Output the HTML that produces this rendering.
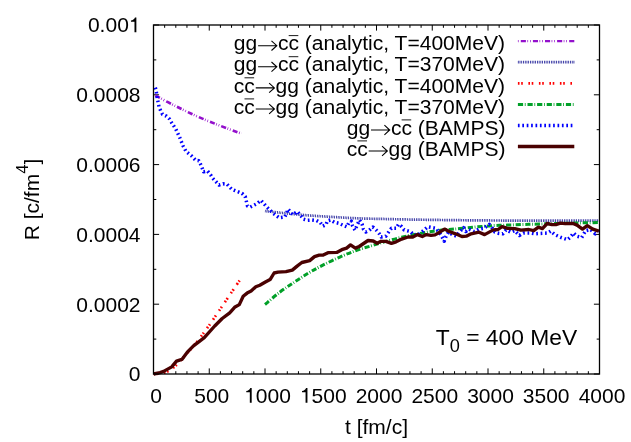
<!DOCTYPE html>
<html><head><meta charset="utf-8"><title>plot</title>
<style>
html,body{margin:0;padding:0;background:#fff;}
body{width:631px;height:442px;overflow:hidden;}
svg{display:block;will-change:transform;opacity:0.999;}
text{font-family:"Liberation Sans",sans-serif;font-size:21px;fill:#000;}
</style></head><body>
<svg width="631" height="442" viewBox="0 0 631 442">
<rect x="0" y="0" width="631" height="442" fill="#fff"/>

<path d="M153.50,374.00v-5.6M153.50,25.00v5.6M164.65,374.00v-2.8M164.65,25.00v2.8M175.80,374.00v-2.8M175.80,25.00v2.8M186.95,374.00v-2.8M186.95,25.00v2.8M198.10,374.00v-2.8M198.10,25.00v2.8M209.25,374.00v-5.6M209.25,25.00v5.6M220.40,374.00v-2.8M220.40,25.00v2.8M231.55,374.00v-2.8M231.55,25.00v2.8M242.70,374.00v-2.8M242.70,25.00v2.8M253.85,374.00v-2.8M253.85,25.00v2.8M265.00,374.00v-5.6M265.00,25.00v5.6M276.15,374.00v-2.8M276.15,25.00v2.8M287.30,374.00v-2.8M287.30,25.00v2.8M298.45,374.00v-2.8M298.45,25.00v2.8M309.60,374.00v-2.8M309.60,25.00v2.8M320.75,374.00v-5.6M320.75,25.00v5.6M331.90,374.00v-2.8M331.90,25.00v2.8M343.05,374.00v-2.8M343.05,25.00v2.8M354.20,374.00v-2.8M354.20,25.00v2.8M365.35,374.00v-2.8M365.35,25.00v2.8M376.50,374.00v-5.6M376.50,25.00v5.6M387.65,374.00v-2.8M387.65,25.00v2.8M398.80,374.00v-2.8M398.80,25.00v2.8M409.95,374.00v-2.8M409.95,25.00v2.8M421.10,374.00v-2.8M421.10,25.00v2.8M432.25,374.00v-5.6M432.25,25.00v5.6M443.40,374.00v-2.8M443.40,25.00v2.8M454.55,374.00v-2.8M454.55,25.00v2.8M465.70,374.00v-2.8M465.70,25.00v2.8M476.85,374.00v-2.8M476.85,25.00v2.8M488.00,374.00v-5.6M488.00,25.00v5.6M499.15,374.00v-2.8M499.15,25.00v2.8M510.30,374.00v-2.8M510.30,25.00v2.8M521.45,374.00v-2.8M521.45,25.00v2.8M532.60,374.00v-2.8M532.60,25.00v2.8M543.75,374.00v-5.6M543.75,25.00v5.6M554.90,374.00v-2.8M554.90,25.00v2.8M566.05,374.00v-2.8M566.05,25.00v2.8M577.20,374.00v-2.8M577.20,25.00v2.8M588.35,374.00v-2.8M588.35,25.00v2.8M599.50,374.00v-5.6M599.50,25.00v5.6M153.50,374.00h5.6M599.50,374.00h-5.6M153.50,339.10h2.8M599.50,339.10h-2.8M153.50,304.20h5.6M599.50,304.20h-5.6M153.50,269.30h2.8M599.50,269.30h-2.8M153.50,234.40h5.6M599.50,234.40h-5.6M153.50,199.50h2.8M599.50,199.50h-2.8M153.50,164.60h5.6M599.50,164.60h-5.6M153.50,129.70h2.8M599.50,129.70h-2.8M153.50,94.80h5.6M599.50,94.80h-5.6M153.50,59.90h2.8M599.50,59.90h-2.8M153.50,25.00h5.6M599.50,25.00h-5.6" stroke="#000" stroke-width="1" fill="none"/>
<g fill="none" stroke-linejoin="round">
<path d="M154.7,95.2 C158.2,97.0 168.9,102.8 176.0,106.3 C183.1,109.8 190.3,113.3 197.5,116.5 C204.7,119.7 211.7,122.5 219.0,125.3 C226.3,128.2 237.6,132.2 241.3,133.6" stroke="#9310cc" stroke-width="2.6" stroke-dasharray="5.1 1.5 0.7 1.9 0.7 2.2" stroke-dashoffset="11.2"/>
<path d="M265.0,211.0 C267.5,211.3 274.2,212.1 280.0,212.7 C285.8,213.3 293.3,214.1 300.0,214.7 C306.7,215.3 313.3,215.8 320.0,216.2 C326.7,216.6 333.3,217.0 340.0,217.4 C346.7,217.8 353.3,218.2 360.0,218.4 C366.7,218.7 370.0,218.7 380.0,218.9 C390.0,219.1 405.0,219.5 420.0,219.7 C435.0,219.9 453.3,220.2 470.0,220.3 C486.7,220.5 498.4,220.5 520.0,220.6 C541.6,220.7 586.2,220.7 599.5,220.7" stroke="#00008b" stroke-width="2.7" stroke-dasharray="0.72 1.02"/>
<path d="M153.5,374.0 C154.6,373.9 157.6,373.9 160.0,373.5 C162.4,373.1 165.1,372.7 167.7,371.4 C170.3,370.1 172.8,368.3 175.8,365.5 C178.9,362.7 182.4,358.6 186.0,354.5 C189.6,350.4 193.8,345.9 197.6,341.0 C201.4,336.1 204.7,331.6 209.1,325.4 C213.5,319.1 218.9,311.0 224.0,303.5 C229.1,296.0 237.0,284.3 239.6,280.5" stroke="#ff0000" stroke-width="2.7" stroke-dasharray="1.6 1.7 1.6 5.6"/>
<path d="M265.0,304.5 C267.4,302.5 274.8,296.0 279.6,292.3 C284.4,288.6 289.1,285.7 293.9,282.5 C298.6,279.3 303.4,276.2 308.1,273.3 C312.9,270.4 317.1,268.1 322.4,265.4 C327.7,262.7 334.2,259.6 339.8,257.1 C345.4,254.6 350.8,252.4 356.1,250.5 C361.4,248.6 366.7,247.2 371.6,245.7 C376.6,244.2 380.8,242.8 385.8,241.4 C390.8,240.0 396.4,238.4 401.7,237.2 C407.0,235.9 412.2,234.9 417.5,233.9 C422.8,232.9 428.1,231.9 433.4,231.2 C438.7,230.4 444.8,229.8 449.2,229.4 C453.6,229.0 455.6,229.0 460.0,228.6 C464.4,228.2 470.5,227.5 475.8,227.0 C481.1,226.5 486.4,226.0 491.7,225.7 C497.0,225.4 502.2,225.3 507.5,225.1 C512.8,224.9 518.1,224.7 523.4,224.5 C528.7,224.3 533.1,224.2 539.2,224.0 C545.3,223.8 553.2,223.6 560.0,223.4 C566.8,223.2 573.4,223.1 580.0,222.9 C586.6,222.8 596.2,222.6 599.5,222.5" stroke="#00a028" stroke-width="3.0" stroke-dasharray="5.2 1.7 0.8 1.9"/>
<polyline points="155.3,87.6 155.9,89.5 156.7,94.3 157.2,98.0 158.2,102.6 159.0,106.9 160.8,111.0 162.5,114.3 166.5,116.2 169.5,119.0 171.1,121.9 175.8,129.0 179.8,137.7 183.0,145.7 186.1,151.5 191.7,156.0 195.7,160.4 198.8,160.7 201.2,165.5 203.6,171.8 207.5,171.0 210.7,175.0 212.7,178.2 219.0,185.0 223.0,183.8 226.9,184.1 231.7,189.3 242.0,193.3 245.2,196.5 247.5,206.0 249.9,207.2 257.0,203.6 261.0,200.4 266.6,206.8 272.9,213.1 279.2,217.8 284.8,217.0 286.4,213.9 288.0,209.1 292.7,214.7 297.4,211.6 301.4,216.4 303.5,219.2 307.6,220.3 312.0,220.0 316.5,220.5 320.3,222.6 322.8,226.2 326.0,224.7 327.4,220.9 330.4,220.0 334.2,222.2 339.3,223.4 343.1,225.3 346.9,226.8 348.8,222.8 351.3,221.1 352.6,226.0 355.1,230.2 357.0,225.3 359.6,220.0 362.1,224.1 363.4,229.1 365.9,232.0 369.1,230.4 372.9,227.0 376.0,229.8 379.2,233.6 381.1,237.0 385.8,236.2 389.0,231.5 391.4,228.3 396.1,228.3 398.5,224.3 401.7,226.7 404.1,229.9 410.4,231.5 413.6,234.6 417.5,235.4 422.3,231.5 427.8,226.7 435.8,228.3 439.7,233.0 442.1,237.0 444.2,241.3 446.1,236.2 448.4,232.2 452.4,234.6 456.4,236.2 458.7,233.0 463.5,227.5 465.9,231.5 468.7,229.1 474.3,231.5 479.0,229.1 483.8,228.3 489.3,224.3 492.5,228.3 494.9,232.2 498.8,233.4 502.8,233.8 506.0,229.9 510.7,232.2 514.7,230.7 519.4,235.4 523.4,233.0 529.7,233.0 534.5,233.8 540.5,233.4 547.6,233.0 550.8,231.1 554.8,234.6 561.1,237.5 567.5,239.7 570.6,237.0 573.5,233.0 577.0,236.2 581.7,237.5 585.7,230.7 590.4,229.5 595.2,233.8 598.8,228.3" stroke="#0000ff" stroke-width="3.5" stroke-dasharray="1.7 2.7"/>
<polyline points="153.7,374.0 160.0,372.6 163.6,371.4 171.7,366.9 176.5,361.2 181.9,359.4 187.3,352.2 193.5,345.8 204.3,337.7 214.7,326.0 222.2,318.5 229.7,312.8 234.6,307.3 239.3,304.6 243.2,296.3 247.1,293.1 251.1,291.0 255.8,286.8 259.8,285.2 265.4,282.0 270.1,279.6 274.1,273.0 278.0,272.2 286.0,271.7 292.3,270.1 297.1,266.1 301.8,262.5 309.7,260.6 314.5,256.6 319.2,255.1 323.2,255.1 328.0,252.7 336.7,252.4 341.8,249.7 346.6,248.1 350.5,244.9 355.3,248.1 359.2,246.5 368.0,240.5 373.2,241.0 377.1,243.3 381.1,241.3 385.8,241.4 391.4,243.3 396.1,241.8 401.7,239.1 408.0,237.0 412.8,237.0 417.5,234.6 422.3,236.5 426.3,234.6 431.0,235.4 435.0,234.9 439.7,232.2 444.5,229.1 449.2,231.5 455.6,233.8 461.9,236.5 466.3,236.2 471.1,233.8 479.0,232.2 484.6,234.6 493.3,229.9 498.0,229.5 502.0,226.7 507.5,228.3 514.7,228.6 521.0,230.2 528.9,229.5 533.7,230.7 538.4,227.2 542.4,228.6 547.2,223.5 551.9,224.6 555.9,224.6 560.3,223.2 565.1,223.7 573.0,223.5 577.0,225.1 582.5,229.1 587.3,225.6 592.8,229.1 598.8,231.1" stroke="#4a0000" stroke-width="3.35"/>
</g>
<rect x="153.5" y="25.0" width="446.0" height="349.0" fill="none" stroke="#000" stroke-width="1.3"/>
<text x="140.5" y="381.3" text-anchor="end">0</text>
<text x="140.5" y="311.5" text-anchor="end">0.0002</text>
<text x="140.5" y="241.7" text-anchor="end">0.0004</text>
<text x="140.5" y="171.9" text-anchor="end">0.0006</text>
<text x="140.5" y="102.1" text-anchor="end">0.0008</text>
<text x="128.82" y="32.3" text-anchor="end">0.00</text>
<path d="M136.36,32.30 L134.49,32.30 L134.49,21.74 L130.95,21.74 L130.95,20.41 C132.81,20.22 134.24,19.17 135.00,17.41 L136.36,17.41 Z" fill="#000"/>
<text x="156.0" y="402.8" text-anchor="middle">0</text>
<text x="211.8" y="402.8" text-anchor="middle">500</text>
<path d="M251.69,402.80 L249.82,402.80 L249.82,392.24 L246.27,392.24 L246.27,390.91 C248.14,390.73 249.57,389.68 250.32,387.91 L251.69,387.91 Z" fill="#000"/>
<text x="255.82" y="402.8">000</text>
<path d="M307.44,402.80 L305.57,402.80 L305.57,392.24 L302.02,392.24 L302.02,390.91 C303.89,390.73 305.32,389.68 306.07,387.91 L307.44,387.91 Z" fill="#000"/>
<text x="311.57" y="402.8">500</text>
<text x="379.0" y="402.8" text-anchor="middle">2000</text>
<text x="434.8" y="402.8" text-anchor="middle">2500</text>
<text x="490.5" y="402.8" text-anchor="middle">3000</text>
<text x="546.2" y="402.8" text-anchor="middle">3500</text>
<text x="602.0" y="402.8" text-anchor="middle">4000</text>
<text x="376.5" y="434" text-anchor="middle">t [fm/c]</text>
<text transform="translate(39.4,199.5) rotate(-90)" text-anchor="middle">R [c/fm<tspan dy="-11.5" font-size="16.8">4</tspan><tspan dy="11.5">]</tspan></text>
<text x="435.8" y="344.7" style="font-size:22.8px">T<tspan dy="6.8" style="font-size:18.2px">0</tspan><tspan dy="-6.8"> = 400 MeV</tspan></text>
<text y="50.30" style="font-size:21.05px"><tspan x="233.79">gg</tspan><tspan x="277.97">cc (analytic, T=400MeV)</tspan></text>
<text y="71.40" style="font-size:21.05px"><tspan x="233.79">gg</tspan><tspan x="277.97">cc (analytic, T=370MeV)</tspan></text>
<text y="92.50" style="font-size:21.05px"><tspan x="233.79">cc</tspan><tspan x="275.61">gg (analytic, T=400MeV)</tspan></text>
<text y="113.60" style="font-size:21.05px"><tspan x="233.79">cc</tspan><tspan x="275.61">gg (analytic, T=370MeV)</tspan></text>
<text y="134.60" style="font-size:21.05px"><tspan x="346.70">gg</tspan><tspan x="390.88">cc (BAMPS)</tspan></text>
<text y="155.60" style="font-size:21.05px"><tspan x="346.70">cc</tspan><tspan x="388.53">gg (BAMPS)</tspan></text>
<path d="M258.09,45.70H276.79M271.49,40.90L276.79,45.70L271.49,50.50M258.09,66.80H276.79M271.49,62.00L276.79,66.80L271.49,71.60M255.74,87.90H274.44M269.14,83.10L274.44,87.90L269.14,92.70M255.74,109.00H274.44M269.14,104.20L274.44,109.00L269.14,113.80M371.01,130.00H389.71M384.41,125.20L389.71,130.00L384.41,134.80M368.65,151.00H387.35M382.05,146.20L387.35,151.00L382.05,155.80" stroke="#000" stroke-width="1.1" fill="none" stroke-linejoin="miter"/>
<path d="M288.70,35.60h9.62M288.70,56.70h9.62M244.51,77.80h9.62M244.51,98.90h9.62M401.61,119.90h9.62M357.42,140.90h9.62" stroke="#000" stroke-width="0.9" fill="none"/>
<g fill="none">
<path d="M517.9,41.1H574.3" stroke="#9310cc" stroke-width="2.4" stroke-dasharray="5.1 1.5 0.7 1.9 0.7 2.2" stroke-dashoffset="9.2"/>
<path d="M517.9,62.2H574.3" stroke="#00008b" stroke-width="2.7" stroke-dasharray="0.72 1.02"/>
<path d="M517.9,83.3H572.4" stroke="#ff0000" stroke-width="2.7" stroke-dasharray="1.6 1.7 1.6 5.6"/>
<path d="M517.9,104.4H574.3" stroke="#00a028" stroke-width="3.0" stroke-dasharray="5.2 1.7 0.8 1.9"/>
<path d="M517.9,125.4H572.8" stroke="#0000ff" stroke-width="3.5" stroke-dasharray="1.7 2.7"/>
<path d="M517.9,146.4H574.3" stroke="#4a0000" stroke-width="3.5"/>
</g>
</svg></body></html>
